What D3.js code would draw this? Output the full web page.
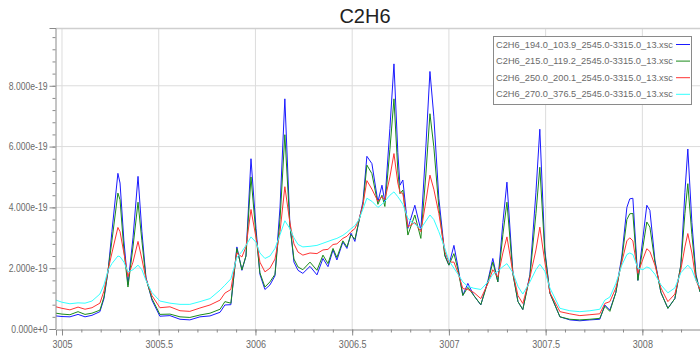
<!DOCTYPE html>
<html>
<head>
<meta charset="utf-8">
<script src="https://cdn.jsdelivr.net/npm/d3@7"></script>
<style>
body { margin: 0; background: #fff; }
text { font-family: "Liberation Sans", Arial, sans-serif; }
</style>
</head>
<body>
<div id="chart"></div>
<script>
// wavenumber (cm-1) of the sampled points
var wavenumber = [
  3004.969, 3005.000, 3005.041, 3005.083, 3005.119, 3005.155, 3005.196, 3005.217, 3005.238, 3005.258,
  3005.289, 3005.300, 3005.320, 3005.341, 3005.367, 3005.393, 3005.413, 3005.434, 3005.465, 3005.506,
  3005.558, 3005.610, 3005.661, 3005.713, 3005.765, 3005.817, 3005.842, 3005.873, 3005.904, 3005.930,
  3005.951, 3005.977, 3006.003, 3006.023, 3006.049, 3006.075, 3006.101, 3006.127, 3006.152, 3006.178,
  3006.199, 3006.220, 3006.245, 3006.282, 3006.318, 3006.349, 3006.375, 3006.401, 3006.421, 3006.452,
  3006.473, 3006.494, 3006.514, 3006.535, 3006.556, 3006.576, 3006.602, 3006.633, 3006.654, 3006.669,
  3006.695, 3006.716, 3006.736, 3006.747, 3006.762, 3006.788, 3006.824, 3006.855, 3006.881, 3006.902,
  3006.922, 3006.948, 3006.979, 3007.000, 3007.026, 3007.047, 3007.072, 3007.098, 3007.129, 3007.165,
  3007.202, 3007.227, 3007.253, 3007.279, 3007.300, 3007.331, 3007.357, 3007.382, 3007.419, 3007.450,
  3007.470, 3007.496, 3007.522, 3007.574, 3007.625, 3007.677, 3007.729, 3007.780, 3007.806, 3007.832,
  3007.863, 3007.894, 3007.920, 3007.935, 3007.951, 3007.977, 3008.003, 3008.023, 3008.039, 3008.065,
  3008.096, 3008.132, 3008.168, 3008.199, 3008.220, 3008.235, 3008.256, 3008.277, 3008.298
];

// cross sections, in units of 1e-19
var xsc194 = [
  0.43, 0.41, 0.40, 0.48, 0.40, 0.45, 0.57, 1.00, 1.90, 3.20,
  5.12, 4.80, 2.90, 1.45, 3.00, 5.02, 3.20, 1.70, 0.95, 0.42,
  0.44, 0.32, 0.30, 0.40, 0.43, 0.55, 0.79, 0.80, 2.70, 1.93,
  2.40, 5.60, 3.30, 1.80, 1.30, 1.45, 1.75, 4.00, 7.57, 3.45,
  2.20, 1.93, 1.83, 2.06, 1.78, 2.32, 2.05, 2.60, 2.27, 2.86,
  2.65, 3.15, 2.88, 3.55, 4.20, 5.68, 5.44, 4.18, 4.73, 4.18,
  6.60, 8.72, 5.80, 4.73, 4.90, 3.31, 4.07, 3.26, 6.00, 8.47,
  7.00, 4.30, 2.44, 2.10, 2.75, 2.04, 1.11, 1.50, 1.10, 0.79,
  1.60, 2.32, 1.55, 3.50, 4.83, 1.83, 0.90, 0.64, 1.80, 4.50,
  6.57, 2.59, 1.18, 0.40, 0.30, 0.27, 0.30, 0.32, 0.79, 0.62,
  1.20, 2.40, 4.00, 4.28, 4.30, 1.60, 3.00, 4.07, 3.90, 2.26,
  1.20, 0.68, 1.00, 2.10, 4.50, 5.92, 3.50, 1.80, 1.22
];
var xsc215 = [
  0.52, 0.49, 0.47, 0.57, 0.48, 0.52, 0.62, 1.05, 1.92, 2.90,
  4.47, 4.25, 2.60, 1.38, 2.70, 4.17, 2.90, 1.65, 1.00, 0.48,
  0.49, 0.40, 0.38, 0.46, 0.52, 0.65, 0.90, 0.85, 2.65, 1.95,
  2.40, 5.00, 3.10, 1.85, 1.38, 1.55, 1.80, 3.60, 6.39, 3.40,
  2.30, 2.04, 1.95, 2.20, 1.93, 2.43, 2.15, 2.65, 2.35, 2.90,
  2.70, 3.10, 2.95, 3.55, 4.10, 5.39, 5.11, 4.10, 4.40, 4.03,
  5.90, 7.57, 5.20, 4.45, 4.57, 3.09, 3.75, 2.98, 5.10, 7.08,
  6.00, 4.00, 2.40, 2.10, 2.48, 1.95, 1.10, 1.37, 1.10, 0.80,
  1.55, 2.20, 1.55, 3.10, 4.17, 1.80, 0.90, 0.64, 1.75, 3.80,
  5.32, 2.50, 1.18, 0.40, 0.32, 0.30, 0.32, 0.35, 0.75, 0.58,
  1.20, 2.30, 3.60, 3.79, 3.80, 1.60, 2.70, 3.52, 3.35, 2.20,
  1.20, 0.68, 1.00, 2.10, 3.80, 4.78, 3.10, 1.75, 1.22
];
var xsc250 = [
  0.73, 0.68, 0.63, 0.72, 0.65, 0.70, 0.85, 1.25, 1.93, 2.50,
  3.34, 3.20, 2.50, 1.72, 2.20, 2.88, 2.30, 1.65, 1.10, 0.70,
  0.73, 0.60, 0.58, 0.69, 0.79, 0.95, 1.18, 1.30, 2.50, 2.37,
  2.70, 3.93, 3.00, 2.20, 1.88, 2.00, 2.30, 3.20, 4.68, 3.50,
  2.80, 2.53, 2.43, 2.50, 2.48, 2.60, 2.62, 2.78, 2.80, 2.98,
  3.05, 3.20, 3.30, 3.60, 4.10, 4.88, 4.60, 4.20, 4.35, 4.25,
  5.00, 5.77, 4.80, 4.50, 4.45, 3.36, 3.50, 3.20, 4.20, 5.06,
  4.60, 3.80, 2.55, 2.20, 2.20, 1.85, 1.33, 1.30, 1.20, 1.00,
  1.50, 1.95, 1.71, 2.50, 3.03, 1.85, 1.10, 0.84, 1.70, 2.60,
  3.35, 2.20, 1.20, 0.57, 0.50, 0.44, 0.47, 0.50, 0.84, 0.90,
  1.35, 2.20, 2.90, 3.00, 2.90, 1.83, 2.30, 2.64, 2.55, 2.10,
  1.35, 0.90, 1.15, 1.95, 2.70, 3.14, 2.50, 1.60, 1.30
];
var xsc270 = [
  0.95, 0.88, 0.83, 0.86, 0.85, 0.92, 1.15, 1.45, 1.93, 2.15,
  2.40, 2.38, 2.20, 1.88, 1.95, 2.10, 1.95, 1.60, 1.20, 0.92,
  0.85, 0.81, 0.81, 0.90, 1.00, 1.28, 1.44, 1.65, 2.35, 2.55,
  2.75, 3.03, 2.85, 2.50, 2.32, 2.40, 2.65, 3.10, 3.56, 3.30,
  3.00, 2.78, 2.70, 2.72, 2.75, 2.82, 2.88, 2.94, 2.98, 3.08,
  3.18, 3.30, 3.40, 3.60, 3.95, 4.30, 4.20, 4.00, 4.10, 4.20,
  4.40, 4.51, 4.35, 4.25, 4.10, 3.64, 3.45, 3.30, 3.55, 3.75,
  3.60, 3.20, 2.66, 2.25, 2.00, 1.80, 1.55, 1.40, 1.34, 1.30,
  1.55, 1.80, 1.90, 2.05, 2.15, 1.85, 1.40, 1.15, 1.55, 1.95,
  2.13, 1.90, 1.35, 0.68, 0.60, 0.57, 0.60, 0.65, 0.95, 1.05,
  1.50, 2.10, 2.45, 2.50, 2.45, 2.00, 1.95, 2.04, 2.00, 1.80,
  1.45, 1.19, 1.35, 1.85, 2.00, 2.10, 1.95, 1.60, 1.39
];

var seriesNames = [
  "C2H6_194.0_103.9_2545.0-3315.0_13.xsc",
  "C2H6_215.0_119.2_2545.0-3315.0_13.xsc",
  "C2H6_250.0_200.1_2545.0-3315.0_13.xsc",
  "C2H6_270.0_376.5_2545.0-3315.0_13.xsc"
];
var seriesColors = ["#1a1aff", "#1a8a1a", "#ff3333", "#33ffff"];
var xTicks = [3005, 3005.5, 3006, 3006.5, 3007, 3007.5, 3008];
var yTicks = [0, 2, 4, 6, 8];

var width = 700, height = 353;
var plotLeft = 56, plotRight = 700, plotTop = 28, plotBottom = 329;
var squeeze = 0.82; // tick text is a narrow face

var svg = d3.select("#chart").append("svg")
    .attr("width", width).attr("height", height);

var x = d3.scaleLinear().domain([3004.969, 3008.298]).range([plotLeft, plotRight]);
var y = d3.scaleLinear().domain([0, 9.9]).range([plotBottom, plotTop]);

function narrow(sel, f) {
  sel.each(function() {
    var w = this.getComputedTextLength();
    d3.select(this).attr("textLength", w * f).attr("lengthAdjust", "spacingAndGlyphs");
  });
}

// grid
svg.append("g").selectAll("line").data(xTicks).join("line")
    .attr("x1", d => x(d)).attr("x2", d => x(d))
    .attr("y1", plotTop).attr("y2", plotBottom)
    .attr("stroke", "#dcdcdc");
svg.append("g").selectAll("line").data(yTicks.slice(1)).join("line")
    .attr("x1", plotLeft).attr("x2", plotRight)
    .attr("y1", d => y(d)).attr("y2", d => y(d))
    .attr("stroke", "#dcdcdc");
svg.append("line").attr("x1", plotLeft).attr("x2", plotRight)
    .attr("y1", plotTop + 0.5).attr("y2", plotTop + 0.5)
    .attr("stroke", "#cfcfcf").attr("stroke-width", 1.5);

// lines
svg.append("clipPath").attr("id", "plotclip").append("rect")
    .attr("x", plotLeft).attr("y", plotTop)
    .attr("width", plotRight - plotLeft).attr("height", plotBottom - plotTop);

var allSeries = [xsc194, xsc215, xsc250, xsc270];
var line = d3.line().x((d, i) => x(wavenumber[i])).y(d => y(d));
svg.append("g").attr("clip-path", "url(#plotclip)")
  .selectAll("path").data(allSeries).join("path")
    .attr("d", d => line(d))
    .attr("fill", "none")
    .attr("stroke", (d, i) => seriesColors[i])
    .attr("stroke-width", 1);

// y axis
var yAxis = svg.append("g").attr("transform", "translate(" + (plotLeft - 0.5) + ",0)")
    .call(d3.axisLeft(y).tickValues(yTicks).tickSize(6).tickPadding(2)
      .tickFormat(d => d3.format(".3e")(d * 1e-19)));
svg.append("g").attr("transform", "translate(" + (plotLeft - 0.5) + ",0)")
    .call(d3.axisLeft(y).tickValues(d3.range(0, 9.7, 0.4)).tickSize(3).tickFormat(""))
    .select(".domain").remove();

// x axis
var xAxis = svg.append("g").attr("transform", "translate(0," + (plotBottom + 0.5) + ")")
    .call(d3.axisBottom(x).tickValues(xTicks).tickSize(6).tickPadding(5)
      .tickFormat(d3.format("~g")));
svg.append("g").attr("transform", "translate(0," + (plotBottom + 0.5) + ")")
    .call(d3.axisBottom(x).tickValues(d3.range(3005, 3008.31, 0.1)).tickSize(3).tickFormat(""))
    .select(".domain").remove();

svg.selectAll(".domain").attr("stroke", "#8a8a8a");
svg.selectAll(".tick line").attr("stroke", "#8a8a8a");
svg.selectAll(".tick text").attr("fill", "#6a6a6a").style("font-size", "10.5px");
narrow(yAxis.selectAll(".tick text"), squeeze);
narrow(xAxis.selectAll(".tick text"), 0.86);

// title
svg.append("text").attr("x", 365).attr("y", 23)
    .attr("text-anchor", "middle")
    .style("font-size", "20px").attr("fill", "#222")
    .text("C2H6");

// legend
var legend = svg.append("g");
legend.append("rect").attr("x", 493.5).attr("y", 36.5)
    .attr("width", 198).attr("height", 68)
    .attr("fill", "#fff").attr("stroke", "#8a8a8a");
var rows = legend.selectAll("g.row").data(seriesNames).join("g")
    .attr("class", "row")
    .attr("transform", (d, i) => "translate(0," + (44 + i * 16.6) + ")");
rows.append("text").attr("x", 496).attr("y", 3.5)
    .style("font-size", "9.4px").attr("fill", "#6a6a6a")
    .attr("textLength", 177).attr("lengthAdjust", "spacingAndGlyphs")
    .text(d => d);
rows.append("line").attr("x1", 676).attr("x2", 690)
    .attr("y1", 0.5).attr("y2", 0.5)
    .attr("stroke", (d, i) => seriesColors[i]).attr("stroke-width", 1);
</script>
</body>
</html>
